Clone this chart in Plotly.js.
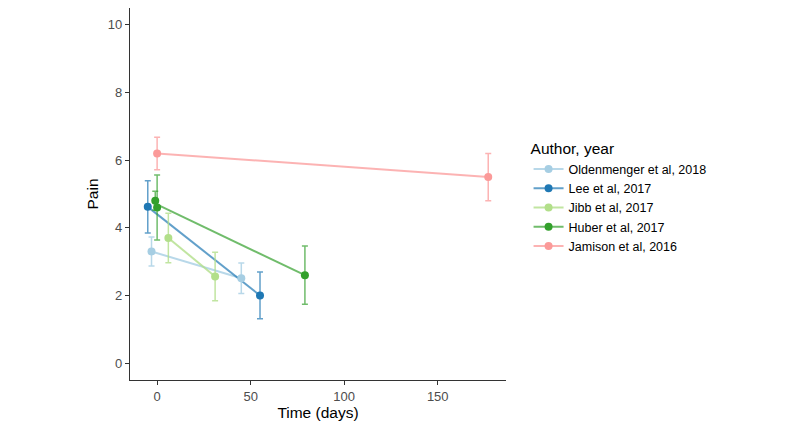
<!DOCTYPE html>
<html>
<head>
<meta charset="utf-8">
<script src="https://cdn.plot.ly/plotly-3.0.1.min.js"></script>
<style>html,body{margin:0;padding:0;background:#fff;}#chart{width:800px;height:427px;}</style>
</head>
<body>
<div id="chart"></div>
<script>
// Data
const authors = ["Oldenmenger et al, 2018", "Lee et al, 2017", "Jibb et al, 2017", "Huber et al, 2017", "Jamison et al, 2016"];
const colors = ["#A6CEE3", "#1F78B4", "#B2DF8A", "#33A02C", "#FB9A99"];
const lineColors = ["rgba(166,206,227,0.8)", "rgba(31,120,180,0.7)", "rgba(178,223,138,0.8)", "rgba(51,160,44,0.7)", "rgba(251,154,153,0.75)"];

const oldenmengerTime = [-3, 45];
const oldenmengerPain = [3.3, 2.51];
const oldenmengerErr  = [0.43, 0.45];

const leeTime = [-5, 55];
const leePain = [4.62, 2.0];
const leeErr  = [0.77, 0.69];

const jibbTime = [6, 31];
const jibbPain = [3.7, 2.56];
const jibbErr  = [0.73, 0.72];

const huberTime = [-1, 0, 79];
const huberPain = [4.8, 4.6, 2.6];
const huberErr  = [0.28, 0.96, 0.86];

const jamisonTime = [0, 177];
const jamisonPain = [6.2, 5.5];
const jamisonErr  = [0.48, 0.7];

const xTicks = [0, 50, 100, 150];
const yTicks = [0, 2, 4, 6, 8, 10];

const series = [
  [oldenmengerTime, oldenmengerPain, oldenmengerErr],
  [leeTime, leePain, leeErr],
  [jibbTime, jibbPain, jibbErr],
  [huberTime, huberPain, huberErr],
  [jamisonTime, jamisonPain, jamisonErr]
];

function fit(x, y) {
  const n = x.length;
  const mx = x.reduce((a, b) => a + b, 0) / n;
  const my = y.reduce((a, b) => a + b, 0) / n;
  let sxx = 0, sxy = 0;
  for (let i = 0; i < n; i++) { sxx += (x[i] - mx) ** 2; sxy += (x[i] - mx) * (y[i] - my); }
  const b = sxy / sxx, a = my - b * mx;
  const x0 = Math.min(...x), x1 = Math.max(...x);
  return { x: [x0, x1], y: [a + b * x0, a + b * x1] };
}

const traces = [];
series.forEach((s, i) => {
  const f = fit(s[0], s[1]);
  traces.push({
    x: f.x, y: f.y, mode: "lines", type: "scatter",
    line: { color: lineColors[i], width: 2 },
    showlegend: false, hoverinfo: "skip"
  });
});
series.forEach((s, i) => {
  traces.push({
    x: s[0], y: s[1], mode: "markers", type: "scatter",
    marker: { color: colors[i], size: 8 },
    error_y: { type: "data", array: s[2], visible: true, color: lineColors[i], thickness: 1.5, width: 3 },
    showlegend: false
  });
});
authors.forEach((a, i) => {
  traces.push({
    x: [null], y: [null], mode: "lines+markers", type: "scatter",
    name: a,
    line: { color: lineColors[i], width: 2 },
    marker: { color: colors[i], size: 8 }
  });
});

const layout = {
  width: 800, height: 427,
  margin: { l: 130, r: 294, t: 8, b: 47 },
  paper_bgcolor: "#fff", plot_bgcolor: "#fff",
  font: { family: "Liberation Sans, Arial, sans-serif", color: "#000" },
  xaxis: {
    range: [-14.5, 186.5], tickvals: xTicks, ticktext: xTicks.map(String),
    showgrid: false, zeroline: false, showline: true, linecolor: "#333", linewidth: 1.2,
    ticks: "outside", ticklen: 4, tickcolor: "#333", tickwidth: 1,
    tickfont: { size: 13, color: "#4d4d4d" },
    title: { text: "Time (days)", font: { size: 15.5, color: "#000" }, standoff: 3 }
  },
  yaxis: {
    range: [-0.5, 10.5], tickvals: yTicks, ticktext: yTicks.map(String),
    showgrid: false, zeroline: false, showline: true, linecolor: "#333", linewidth: 1.2,
    ticks: "outside", ticklen: 4, tickcolor: "#333", tickwidth: 1,
    tickfont: { size: 13, color: "#4d4d4d" },
    title: { text: "Pain", font: { size: 15.5, color: "#000" }, standoff: 5 }
  },
  legend: {
    x: 1.06, xanchor: "left", y: 0.49, yanchor: "middle",
    title: { text: "Author, year", font: { size: 15.5, color: "#000" } },
    font: { size: 12.5, color: "#000" },
    tracegroupgap: 0, itemwidth: 30, bgcolor: "rgba(0,0,0,0)"
  },
  showlegend: true
};

Plotly.newPlot("chart", traces, layout, { staticPlot: true, displayModeBar: false });
</script>
</body>
</html>
